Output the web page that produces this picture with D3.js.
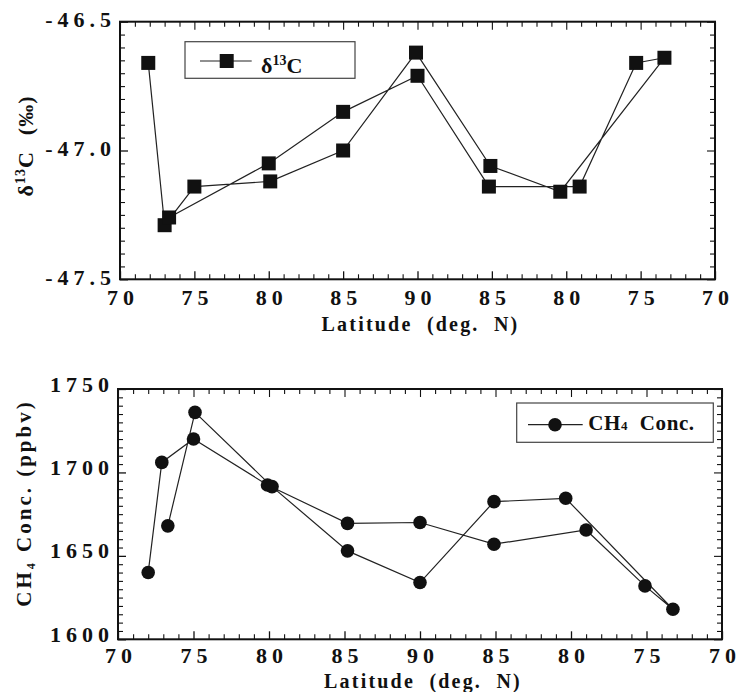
<!DOCTYPE html>
<html>
<head>
<meta charset="utf-8">
<script src="https://cdn.jsdelivr.net/npm/d3@7"></script>
<style>
  html, body { margin: 0; padding: 0; background: #fff; }
  svg { display: block; }
  text { font-family: "Liberation Serif", "Times New Roman", serif; font-weight: bold; fill: #111; }
</style>
</head>
<body>
<svg id="chart" width="739" height="692"></svg>
<script>
// ---- data ----
// x axis runs along the flight track: 70 -> 90 (outbound, leg "out") then 90 -> 70 (return, leg "ret")
const xTickLabels = ["70", "75", "80", "85", "90", "85", "80", "75", "70"];

// delta 13C panel (points in drawing order)
const d13cLeg = ["out","out","out","out","out","out","ret","ret","ret","ret","ret","ret","out","out","out","out"];
const d13cLat = [71.9, 73.0, 75.0, 80.1, 85.0, 89.9, 85.1, 80.4, 73.4, 75.3, 79.1, 85.2, 90.0, 85.0, 80.0, 73.3];
const d13cVal = [-46.66, -47.29, -47.14, -47.12, -47.00, -46.62, -47.06, -47.16, -46.64, -46.66, -47.14, -47.14, -46.71, -46.85, -47.05, -47.26];
const d13cTicks = [-47.5, -47.0, -46.5];
const d13cTickLabels = ["-47.5", "-47.0", "-46.5"];

// CH4 panel (points in drawing order)
const ch4Leg = ["out","out","out","out","out","out","ret","ret","ret","ret","ret","ret","out","out","out","out","out"];
const ch4Lat = [72.0, 72.9, 75.0, 79.9, 85.2, 90.0, 85.1, 79.0, 75.1, 73.25, 80.35, 85.1, 90.0, 85.2, 80.2, 75.1, 73.3];
const ch4Val = [1640, 1706, 1720, 1692.5, 1669.5, 1670, 1657, 1665.5, 1632, 1618, 1684.5, 1682.5, 1634, 1653, 1691.5, 1736, 1668];
const ch4Ticks = [1600, 1650, 1700, 1750];
const ch4TickLabels = ["1600", "1650", "1700", "1750"];

// ---- helpers ----
const track = (leg, lat) => leg === "out" ? lat - 70 : 110 - lat;
const svg = d3.select("#chart");
const INK = "#111";
const TICK_FS = 22, LS = 5;

// spread characters of a label without trailing space
function spread(sel) {
  sel.each(function () {
    const t = d3.select(this);
    const s = t.text();
    t.text(null);
    [...s].forEach((c, i) => t.append("tspan").attr("dx", i ? LS : 0).text(c));
  });
}

function panel(opt) {
  const g = svg.append("g");
  const x = d3.scaleLinear().domain([0, 40]).range([opt.left, opt.right]);
  const y = d3.scaleLinear().domain(opt.yDomain).range([opt.bottom, opt.top]);
  const majorX = d3.range(0, 41, 5);
  const minorX = d3.range(0, 41, 1).filter(v => v % 5 !== 0);
  const majorY = opt.yTicks;
  const minorY = d3.range(0, Math.round((opt.yDomain[1] - opt.yDomain[0]) / opt.yMinor) + 1)
      .map(i => opt.yDomain[0] + i * opt.yMinor)
      .filter(v => !majorY.some(m => Math.abs(m - v) < 1e-6));

  const ax = g.append("g").attr("transform", `translate(0,${opt.bottom})`)
    .call(d3.axisBottom(x).tickValues(majorX).tickSize(-8).tickPadding(opt.xPad)
      .tickFormat((d, i) => xTickLabels[i]));
  ax.select(".domain").remove();
  ax.selectAll("line").attr("stroke", INK).attr("stroke-width", 1.3);
  ax.selectAll("text").attr("font-size", TICK_FS).attr("fill", INK)
    .style("font-family", "Liberation Serif").style("font-weight", "bold").call(spread);
  const axm = g.append("g").attr("transform", `translate(0,${opt.bottom})`)
    .call(d3.axisBottom(x).tickValues(minorX).tickSize(-5).tickFormat(""));
  axm.select(".domain").remove();
  axm.selectAll("line").attr("stroke", INK).attr("stroke-width", 1.1);
  [[majorX, 8], [minorX, 5]].forEach(([vals, s]) => {
    const t = g.append("g").attr("transform", `translate(0,${opt.top})`)
      .call(d3.axisTop(x).tickValues(vals).tickSize(-s).tickFormat(""));
    t.select(".domain").remove();
    t.selectAll("line").attr("stroke", INK).attr("stroke-width", 1.1);
  });

  const ay = g.append("g").attr("transform", `translate(${opt.left},0)`)
    .call(d3.axisLeft(y).tickValues(majorY).tickSize(-8).tickPadding(opt.yPad)
      .tickFormat((d, i) => opt.yTickLabels[i]));
  ay.select(".domain").remove();
  ay.selectAll("line").attr("stroke", INK).attr("stroke-width", 1.3);
  ay.selectAll("text").attr("font-size", TICK_FS).attr("fill", INK).attr("y", opt.yLabelShift)
    .style("font-family", "Liberation Serif").style("font-weight", "bold").call(spread);
  const aym = g.append("g").attr("transform", `translate(${opt.left},0)`)
    .call(d3.axisLeft(y).tickValues(minorY).tickSize(-5).tickFormat(""));
  aym.select(".domain").remove();
  aym.selectAll("line").attr("stroke", INK).attr("stroke-width", 1.1);
  [[majorY, 8], [minorY, 5]].forEach(([vals, s]) => {
    const t = g.append("g").attr("transform", `translate(${opt.right},0)`)
      .call(d3.axisRight(y).tickValues(vals).tickSize(-s).tickFormat(""));
    t.select(".domain").remove();
    t.selectAll("line").attr("stroke", INK).attr("stroke-width", 1.1);
  });

  g.append("rect").attr("x", opt.left).attr("y", opt.top)
    .attr("width", opt.right - opt.left).attr("height", opt.bottom - opt.top)
    .attr("fill", "none").attr("stroke", INK).attr("stroke-width", 2);

  const pts = opt.lat.map((la, i) => ({ t: track(opt.leg[i], la), v: opt.val[i] }));
  g.append("path").datum(pts)
    .attr("d", d3.line().x(d => x(d.t)).y(d => y(d.v)))
    .attr("fill", "none").attr("stroke", "#222").attr("stroke-width", 1.2);
  if (opt.marker === "square") {
    g.selectAll("rect.pt").data(pts).join("rect").attr("class", "pt")
      .attr("x", d => x(d.t) - 7).attr("y", d => y(d.v) - 7)
      .attr("width", 14).attr("height", 14).attr("fill", INK);
  } else {
    g.selectAll("circle.pt").data(pts).join("circle").attr("class", "pt")
      .attr("cx", d => x(d.t)).attr("cy", d => y(d.v)).attr("r", 6.8).attr("fill", INK);
  }

  g.append("text").attr("x", (opt.left + opt.right) / 2 + 3).attr("y", opt.xTitleY)
    .attr("text-anchor", "middle").attr("font-size", 20).attr("letter-spacing", 2.2)
    .text("Latitude\u00A0\u00A0(deg.\u00A0\u00A0N)");
  return { g, x, y };
}

// ---- top panel ----
panel({
  left: 120, right: 715, top: 21.7, bottom: 279.3,
  yDomain: [-47.5, -46.5], yMinor: 0.05, yTicks: d13cTicks, yTickLabels: d13cTickLabels,
  xPad: 10, yPad: 9, yLabelShift: -2, xTitleY: 331,
  leg: d13cLeg, lat: d13cLat, val: d13cVal, marker: "square"
});

const yt1 = svg.append("text").attr("transform", "translate(33,146) rotate(-90)")
  .attr("text-anchor", "middle").attr("font-size", 22).attr("letter-spacing", 1);
yt1.append("tspan").text("δ");
yt1.append("tspan").attr("font-size", 14).attr("dy", -8).text("13");
yt1.append("tspan").attr("dy", 8).text("C");
yt1.append("tspan").attr("dx", 16).text("(‰)");

const lg1 = svg.append("g");
lg1.append("rect").attr("x", 185).attr("y", 41.7).attr("width", 170).attr("height", 36.6)
  .attr("fill", "none").attr("stroke", "#444").attr("stroke-width", 1.2);
lg1.append("line").attr("x1", 200).attr("x2", 251.7).attr("y1", 61).attr("y2", 61)
  .attr("stroke", "#222").attr("stroke-width", 1.2);
lg1.append("rect").attr("x", 226.7 - 7).attr("y", 61 - 7).attr("width", 14).attr("height", 14).attr("fill", INK);
const lt1 = lg1.append("text").attr("x", 261).attr("y", 73).attr("font-size", 22);
lt1.append("tspan").text("δ");
lt1.append("tspan").attr("font-size", 14).attr("dy", -8).text("13");
lt1.append("tspan").attr("dy", 8).text("C");

// ---- bottom panel ----
panel({
  left: 118, right: 722, top: 389, bottom: 639.3,
  yDomain: [1600, 1750], yMinor: 5, yTicks: ch4Ticks, yTickLabels: ch4TickLabels,
  xPad: 8, yPad: 9, yLabelShift: -5, xTitleY: 688,
  leg: ch4Leg, lat: ch4Lat, val: ch4Val, marker: "circle"
});

const yt2 = svg.append("text").attr("transform", "translate(31,503) rotate(-90)")
  .attr("text-anchor", "middle").attr("font-size", 21).attr("letter-spacing", 3);
yt2.append("tspan").text("CH");
yt2.append("tspan").attr("font-size", 12).attr("dy", 4).text("4");
yt2.append("tspan").attr("dy", -4).text("\u00A0Conc.\u00A0(ppbv)");

const lg2 = svg.append("g");
lg2.append("rect").attr("x", 516.7).attr("y", 403).attr("width", 196.6).attr("height", 39.3)
  .attr("fill", "none").attr("stroke", "#444").attr("stroke-width", 1.2);
lg2.append("line").attr("x1", 528).attr("x2", 582.7).attr("y1", 424.7).attr("y2", 424.7)
  .attr("stroke", "#222").attr("stroke-width", 1.2);
lg2.append("circle").attr("cx", 555).attr("cy", 424.7).attr("r", 6.8).attr("fill", INK);
const lt2 = lg2.append("text").attr("x", 588.3).attr("y", 430).attr("font-size", 21).attr("letter-spacing", 0.6);
lt2.append("tspan").text("CH");
lt2.append("tspan").attr("font-size", 13).text("4");
lt2.append("tspan").text("\u00A0\u00A0Conc.");
</script>
</body>
</html>
